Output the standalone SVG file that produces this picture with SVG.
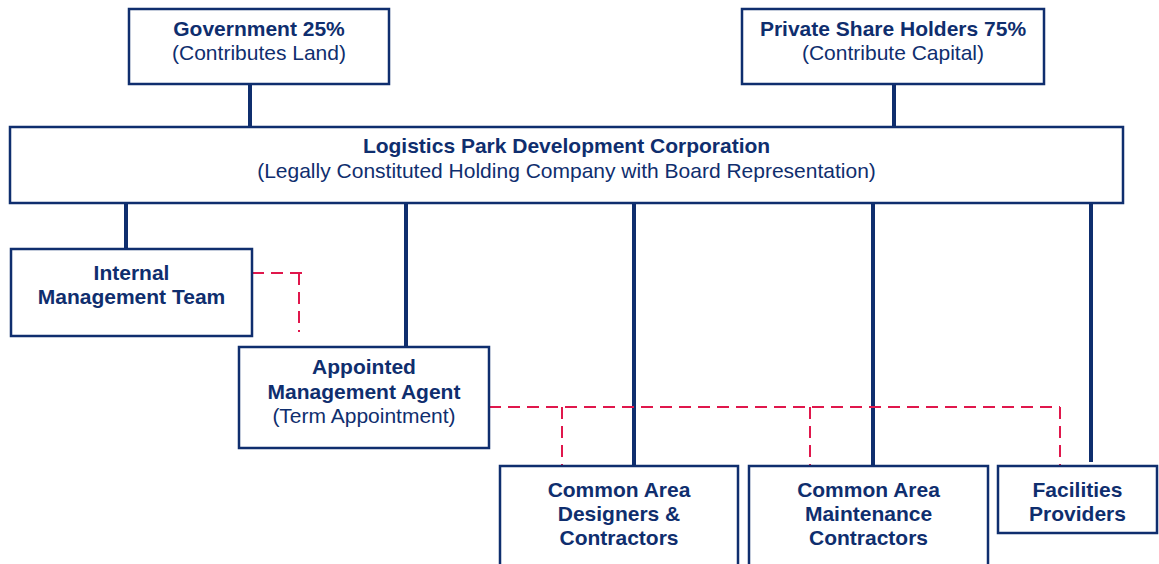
<svg xmlns="http://www.w3.org/2000/svg" width="1159" height="564" viewBox="0 0 1159 564">
  <style>
    .box { fill: #ffffff; stroke: #0f2e6e; stroke-width: 2.5; }
    .t { font-family: "Liberation Sans", Arial, sans-serif; font-size: 21px; fill: #0f2e6e; text-anchor: middle; }
    .b { font-weight: bold; }
    .solid { stroke: #0f2e6e; stroke-width: 4; fill: none; }
    .dash { stroke: #e0174c; stroke-width: 2; fill: none; stroke-dasharray: 12 7; }
  </style>
  <rect width="1159" height="564" fill="#ffffff"/>

  <!-- ownership and reporting lines -->
  <g id="connectors">
    <line class="solid" x1="250" y1="84" x2="250" y2="128"/>
    <line class="solid" x1="894" y1="84" x2="894" y2="128"/>
    <line class="solid" x1="126" y1="203" x2="126" y2="249"/>
    <line class="solid" x1="406" y1="203" x2="406" y2="347"/>
    <line class="solid" x1="634" y1="203" x2="634" y2="466"/>
    <line class="solid" x1="873" y1="203" x2="873" y2="466"/>
    <line class="solid" x1="1091" y1="203" x2="1091" y2="462"/>
    <!-- coordination links -->
    <path class="dash" d="M252,273 H305"/>
    <path class="dash" d="M299,273 V332"/>
    <path class="dash" d="M489,407 H1060"/>
    <path class="dash" d="M562,407 V466"/>
    <path class="dash" d="M810,407 V466"/>
    <path class="dash" d="M1060,407 V466"/>
  </g>

  <g id="government">
    <rect class="box" x="129" y="9" width="260" height="75"/>
    <text class="t b" x="259" y="36">Government 25%</text>
    <text class="t" x="259" y="60">(Contributes Land)</text>
  </g>

  <g id="private-shareholders">
    <rect class="box" x="742" y="9" width="302" height="75"/>
    <text class="t b" x="893" y="36">Private Share Holders 75%</text>
    <text class="t" x="893" y="60">(Contribute Capital)</text>
  </g>

  <g id="corporation">
    <rect class="box" x="10" y="127" width="1113" height="76"/>
    <text class="t b" x="566.5" y="153">Logistics Park Development Corporation</text>
    <text class="t" x="566.5" y="178">(Legally Constituted Holding Company with Board Representation)</text>
  </g>

  <g id="internal-team">
    <rect class="box" x="11" y="249" width="241" height="87"/>
    <text class="t b" x="131.5" y="280">Internal</text>
    <text class="t b" x="131.5" y="304">Management Team</text>
  </g>

  <g id="management-agent">
    <rect class="box" x="239" y="347" width="250" height="101"/>
    <text class="t b" x="364" y="374">Appointed</text>
    <text class="t b" x="364" y="399">Management Agent</text>
    <text class="t" x="364" y="423">(Term Appointment)</text>
  </g>

  <g id="designers-contractors">
    <rect class="box" x="500" y="466" width="238" height="110"/>
    <text class="t b" x="619" y="497">Common Area</text>
    <text class="t b" x="619" y="521">Designers &amp;</text>
    <text class="t b" x="619" y="545">Contractors</text>
  </g>

  <g id="maintenance-contractors">
    <rect class="box" x="749" y="466" width="239" height="110"/>
    <text class="t b" x="868.5" y="497">Common Area</text>
    <text class="t b" x="868.5" y="521">Maintenance</text>
    <text class="t b" x="868.5" y="545">Contractors</text>
  </g>

  <g id="facilities-providers">
    <rect class="box" x="998" y="466" width="159" height="67"/>
    <text class="t b" x="1077.5" y="497">Facilities</text>
    <text class="t b" x="1077.5" y="521">Providers</text>
  </g>
</svg>
